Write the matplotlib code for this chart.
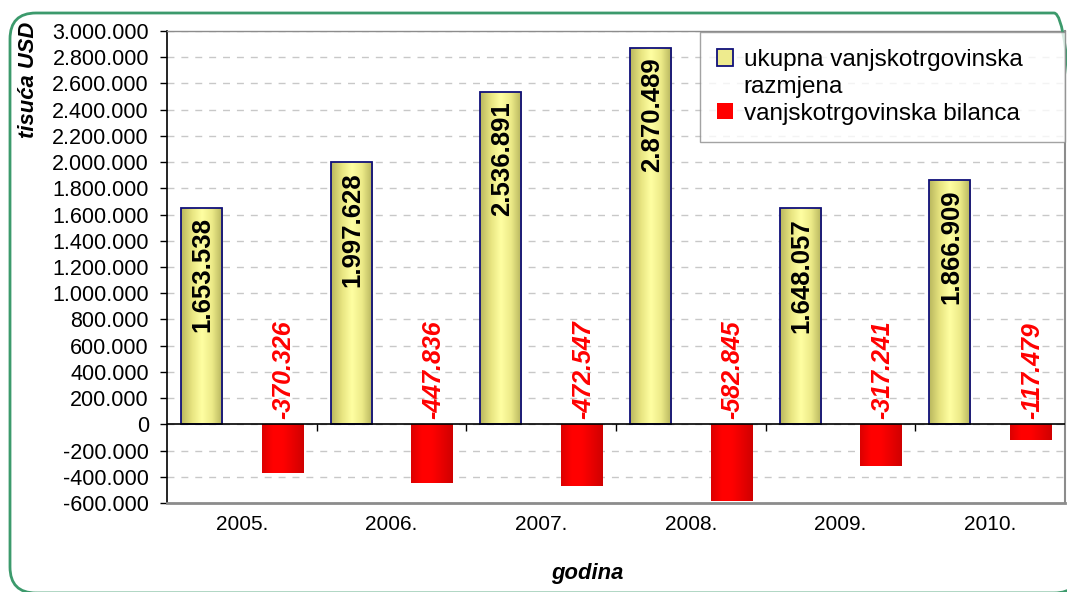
import numpy as np
import matplotlib
matplotlib.use("Agg")
import matplotlib.pyplot as plt
from matplotlib.colors import LinearSegmentedColormap
from matplotlib.patches import FancyBboxPatch
from matplotlib.transforms import IdentityTransform
from matplotlib.ticker import FuncFormatter

godine = ["2005.", "2006.", "2007.", "2008.", "2009.", "2010."]
ukupna = [1653538, 1997628, 2536891, 2870489, 1648057, 1866909]
bilanca = [-370326, -447836, -472547, -582845, -317241, -117479]

plt.rcParams['font.family'] = ['Liberation Sans', 'DejaVu Sans']


def fmt(v):
    s = "{:,}".format(int(abs(v))).replace(",", ".")
    return ("-" if v < 0 else "") + s


fig = plt.figure(figsize=(10.67, 5.92), dpi=100)
ax = fig.add_axes([167 / 1067, 1 - 503 / 592, 898 / 1067, 472 / 592])

x = np.arange(len(godine))
w = 0.275
zuta = LinearSegmentedColormap.from_list(
    "zuta", ["#b9b75e", "#e6e37f", "#ffffa2", "#ecea88", "#b5b35c"])
crvena = LinearSegmentedColormap.from_list(
    "crvena", ["#dc0000", "#ff0000", "#ff0000", "#e80000", "#d00000"])
grad = np.linspace(0, 1, 64).reshape(1, -1)

b1 = ax.bar(x - 0.27, ukupna, w, facecolor="none", edgecolor="#10107a",
            linewidth=1.3, zorder=4)
b2 = ax.bar(x + 0.27, bilanca, w, facecolor="none", edgecolor="none", zorder=4)

for bars, cm in ((b1, zuta), (b2, crvena)):
    for r in bars:
        x0, y0 = r.get_x(), r.get_y()
        im = ax.imshow(grad, cmap=cm, aspect="auto", zorder=3,
                       extent=[x0, x0 + r.get_width(), y0, y0 + r.get_height()])
        im.set_clip_path(r)

ax.set_xlim(-0.5, 5.5)
ax.set_ylim(-600000, 3000000)
ax.set_yticks(np.arange(-600000, 3000001, 200000))
ax.yaxis.set_major_formatter(FuncFormatter(lambda v, p: fmt(v)))
ax.set_xticks(x)
ax.set_xticklabels(godine)
ax.tick_params(axis="x", length=0, pad=9, labelsize=15)
ax.tick_params(axis="y", length=5, width=1, direction="out", labelsize=15.5, pad=8)

ax.grid(axis="y", color="#c8c8c8", linestyle=(0, (5, 5)), linewidth=1, zorder=0)
ax.set_axisbelow(True)
ax.axhline(0, color="black", linewidth=1.2, zorder=5)
ax.vlines(x[:-1] + 0.5, -50000, 0, color="black", linewidth=1, zorder=5)

for s in ("top", "right", "bottom"):
    ax.spines[s].set_color("#8c8c8c")
ax.spines["bottom"].set_linewidth(2)
ax.spines["top"].set_linewidth(1)
ax.spines["right"].set_linewidth(1.5)
ax.spines["left"].set_color("black")
ax.spines["left"].set_linewidth(1.2)

for r, v in zip(b1, ukupna):
    ax.annotate(fmt(v), (r.get_x() + r.get_width() / 2, v), xytext=(1, -7),
                textcoords="offset points", rotation=90, ha="center", va="top",
                fontsize=18.5, fontweight="bold", color="black", zorder=6)
for r, v in zip(b2, bilanca):
    ax.annotate(fmt(v), (r.get_x() + r.get_width() / 2, 0), xytext=(1, 4),
                textcoords="offset points", rotation=90, ha="center", va="bottom",
                fontsize=18, fontweight="bold", fontstyle="italic", color="#ff0000",
                zorder=6)

# legenda - prvi naziv u dva reda, kvadratic uz prvi red
h1 = plt.Rectangle((0, 0), 1, 1, facecolor="#eeeb8e", edgecolor="#10107a", linewidth=1.3)
h0 = plt.Rectangle((0, 0), 1, 1, facecolor="none", edgecolor="none")
h2 = plt.Rectangle((0, 0), 1, 1, facecolor="#ff0000", edgecolor="none")
leg = fig.legend([h1, h0, h2],
                 ["ukupna vanjskotrgovinska", "razmjena", "vanjskotrgovinska bilanca"],
                 loc="upper left", bbox_to_anchor=(700 / 1067, 1 - 32 / 592 - 0.2, 365 / 1067, 0.2),
                 mode="expand",
                 fontsize=17.5, frameon=True, fancybox=False, borderaxespad=0,
                 handlelength=0.65, handleheight=0.65, handletextpad=0.45,
                 labelspacing=0.2, borderpad=0.7)
leg.get_frame().set_edgecolor("#8c8c8c")
leg.get_frame().set_linewidth(1)
leg.set_zorder(10)

fig.text(28 / 1067, 1 - 22 / 592, "tisuća USD", rotation=90, ha="center", va="top",
         fontsize=15.8, fontweight="bold", fontstyle="italic")
fig.text(587 / 1067, 1 - 573 / 592, "godina", ha="center", va="center",
         fontsize=15.8, fontweight="bold", fontstyle="italic")

# zeleni zaobljeni okvir (u pikselima)
okvir = FancyBboxPatch((10, -1), 1070, 580, boxstyle="round,pad=0,rounding_size=26",
                       facecolor="none", edgecolor="#3c9a6c", linewidth=2, zorder=0)
okvir.set_transform(IdentityTransform())
fig.patches.append(okvir)

fig.savefig("out.png", dpi=100)
